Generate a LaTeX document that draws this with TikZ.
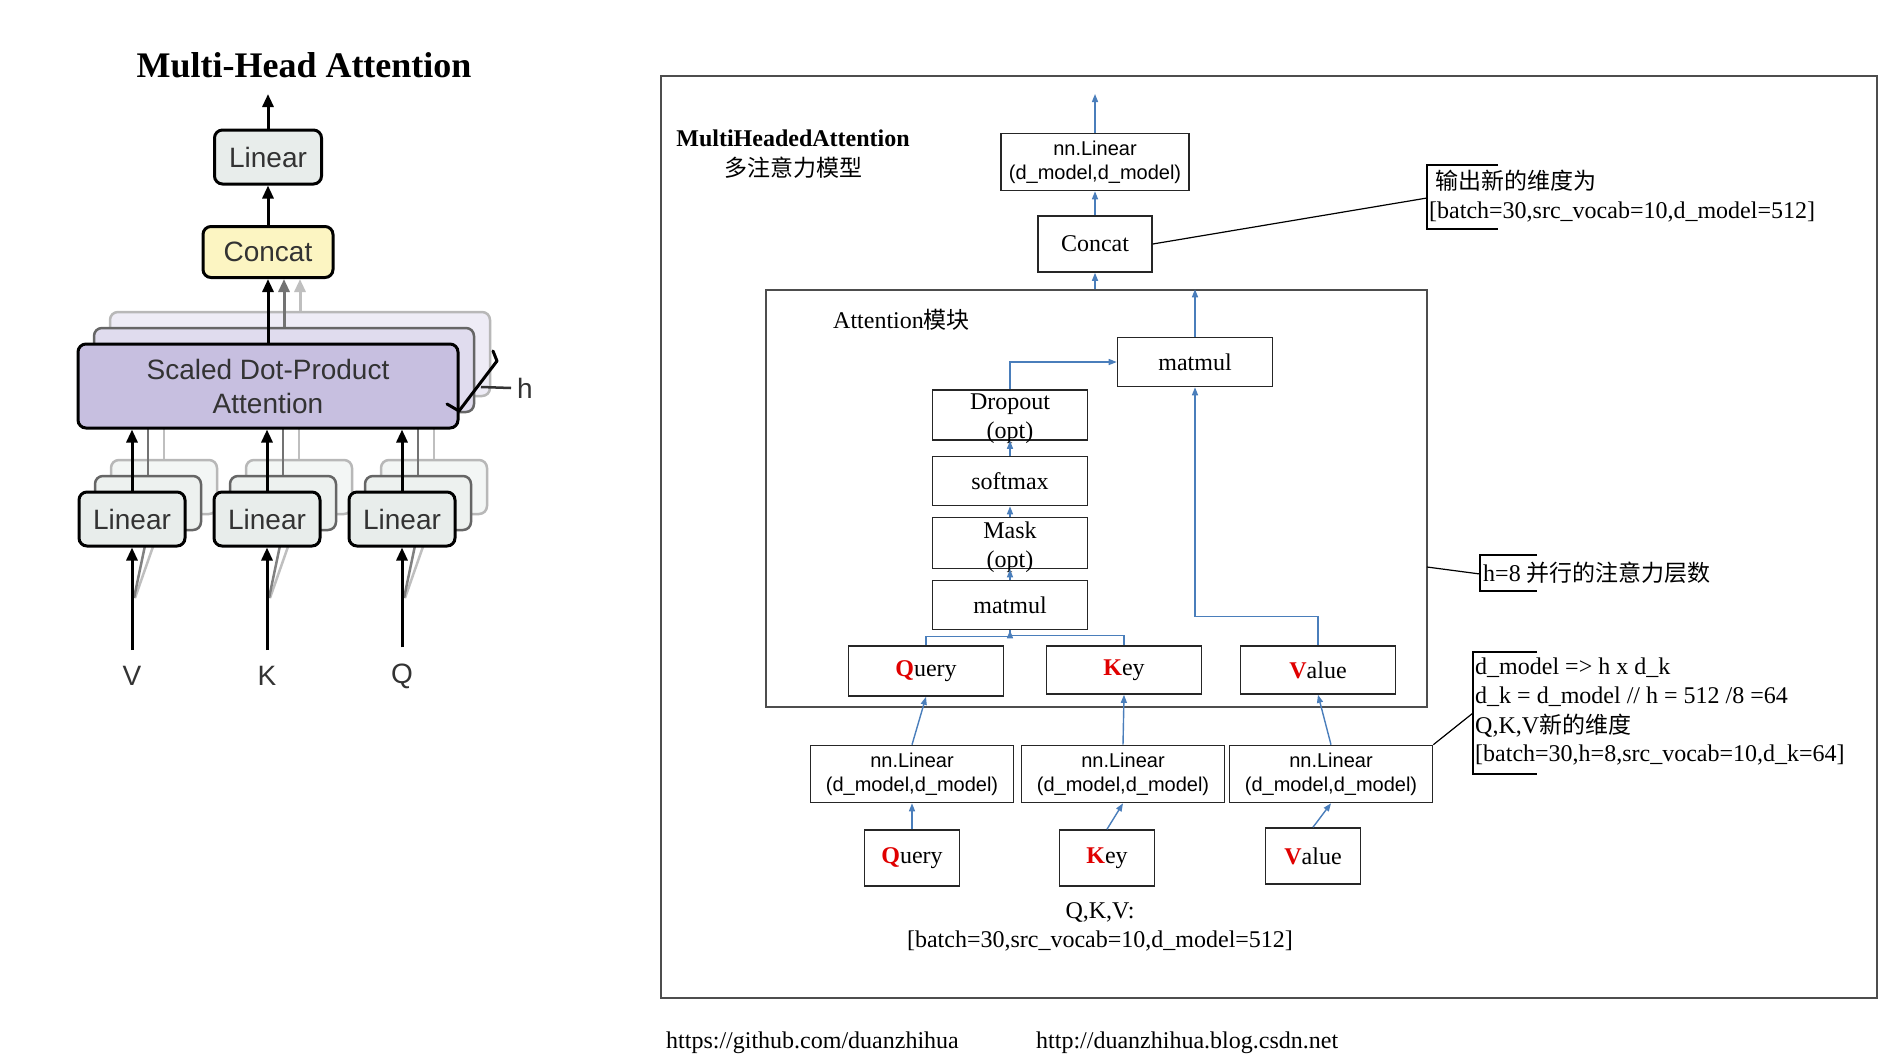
\documentclass[tikz,border=0pt]{standalone}
\usepackage{fontspec}
\setmainfont{Liberation Serif}
\setsansfont{Liberation Sans}
\newfontfamily\cjk{Noto Sans CJK SC}
\usetikzlibrary{arrows.meta,calc}
\definecolor{lblue}{HTML}{4A7EBB}
\definecolor{sdpafill}{HTML}{C7BFE0}
\definecolor{linfill}{HTML}{E8EDEB}
\definecolor{catfill}{HTML}{FCF5C2}
\definecolor{qred}{HTML}{E00000}
\definecolor{framec}{HTML}{4D4D4D}
\newcommand\redl[1]{{\bfseries\color{qred}#1}}
\begin{document}
\begin{tikzpicture}[x=1pt,y=-1pt,
 lbox/.style={draw=black, line width=3pt, rounded corners=8pt, inner sep=0pt, font=\sffamily\fontsize{28}{34}\selectfont, text=black!80, align=center},
 lcopyA/.style={draw=black!60, line width=2.5pt, rounded corners=8pt, inner sep=0pt},
 lcopyB/.style={draw=black!28, line width=2.5pt, rounded corners=8pt, inner sep=0pt},
 karr/.style={draw=black, line width=3pt, -{Triangle[length=13pt,width=11pt]}},
 rbox/.style={draw=black!85, line width=1.6pt, inner sep=0pt},
 tnr/.style={font=\fontsize{24}{29}\selectfont, align=center, inner sep=0pt},
 tnrl/.style={font=\fontsize{24}{29}\selectfont, align=left, inner sep=0pt, anchor=west},
 arl/.style={font=\sffamily\fontsize{20}{24}\selectfont, align=center},
 barr/.style={draw=lblue, line width=1.4pt, -{Triangle[length=8pt,width=6pt]}},
 bline/.style={draw=lblue, line width=1.4pt},
 cline/.style={draw=black, line width=1.2pt},
 lsans/.style={font=\sffamily\fontsize{28}{34}\selectfont, text=black!80, inner sep=0pt}
]
\fill[white] (0,0) rectangle (1881,1058);
\path[use as bounding box] (0,0) rectangle (1881,1058);

% ================= LEFT FIGURE =================
\node[font=\bfseries\fontsize{36}{40}\selectfont] (title) at (304,65) {Multi-Head Attention};

% copies of scaled dot-product attention
\node[lcopyB, fill=sdpafill!30, minimum width=380, minimum height=84] (sdpa3) at (300,354) {};
\node[lcopyA, fill=sdpafill!55, minimum width=380, minimum height=84] (sdpa2) at (284,370) {};

% copies of linear boxes
\foreach \n/\x in {1/132,2/267,3/402}{
  \node[lcopyB, fill=linfill!50, minimum width=106, minimum height=54] (lin\n c) at (\x+32,487) {};
  \node[lcopyA, fill=linfill!80, minimum width=106, minimum height=54] (lin\n b) at (\x+16,503) {};
}
% faint lines of copies
\foreach \n/\x in {1/132,2/267,3/402}{
  \draw[black!25, line width=2.5pt] (lin\n c.north) -- (lin\n c.north |- sdpa3.south);
  \draw[black!55, line width=2.5pt] (lin\n b.north) -- (lin\n b.north |- sdpa2.south);
  \draw[black!25, line width=2.5pt] (\x+3,598) -- (lin\n c.south);
  \draw[black!50, line width=2.5pt] (\x+2,598) -- (lin\n b.south);
}

% front nodes
\node[lbox, fill=sdpafill, minimum width=380, minimum height=84] (sdpa) at (268,386) {Scaled Dot-Product\\Attention};
\node[lbox, fill=catfill, minimum width=130, minimum height=51] (cat) at (268,252) {Concat};
\node[lbox, fill=linfill, minimum width=107, minimum height=54] (lintop) at (268,157) {Linear};
\coordinate (ltop) at (268,94);
\node[lbox, fill=linfill, minimum width=106, minimum height=54] (lin1) at (132,519) {Linear};
\node[lbox, fill=linfill, minimum width=106, minimum height=54] (lin2) at (267,519) {Linear};
\node[lbox, fill=linfill, minimum width=106, minimum height=54] (lin3) at (402,519) {Linear};
\node[lsans] (vin) at (132,676) {V};
\node[lsans] (kin) at (267,676) {K};
\node[lsans] (qin) at (402,676) {Q};

% arrows
\draw[karr, draw=black!25] (sdpa3.north) -- (sdpa3.north |- cat.south);
\draw[karr, draw=black!55] (sdpa2.north) -- (sdpa2.north |- cat.south);
\draw[karr] (sdpa.north) -- (cat.south);
\draw[karr] (cat.north) -- (lintop.south);
\draw[karr] (lintop.north) -- (ltop);
\draw[karr] (lin1.north) -- (lin1.north |- sdpa.south);
\draw[karr] (lin2.north) -- (lin2.north |- sdpa.south);
\draw[karr] (lin3.north) -- (lin3.north |- sdpa.south);
\draw[karr] ([yshift=16pt]vin.north) -- (lin1.south);
\draw[karr] ([yshift=16pt]kin.north) -- (lin2.south);
\draw[karr] ([yshift=16pt]qin.north) -- (lin3.south);

% h brace
\draw[line width=3pt, line join=round, line cap=round] (447,404) -- (459,411) -- (497,361) -- (493,351);
\node[lsans] (hlab) at (525,388) {h};
\coordinate (hl) at (481,387);
\draw[line width=2.5pt, black!80] (hl) -- ([xshift=-6pt]hlab.west);

% ================= RIGHT FIGURE =================
\draw[framec, line width=1.5pt] (661,76) rectangle (1877,998);

\node[font=\bfseries\fontsize{24}{29}\selectfont, inner sep=0pt] (mha) at (793,138) {MultiHeadedAttention};
\node[font=\cjk\fontsize{23}{29}\selectfont, inner sep=0pt] (mhacn) at (793,168) {多注意力模型};

\node[rbox, minimum width=188, minimum height=57, arl] (nlin0) at (1095,162) {nn.Linear\\(d\_model,d\_model)};
\coordinate (outtop) at (1095,94);
\node[rbox, minimum width=114, minimum height=56, tnr] (cat2) at (1095,244) {Concat};

\node[draw=framec, line width=1.5pt, minimum width=661, minimum height=417, inner sep=0pt] (attn) at (1096.5,498.5) {};
\node[tnrl] (attnlab) at (833,320) {Attention{\cjk\fontsize{23}{29}\selectfont 模块}};

\node[rbox, minimum width=155, minimum height=49, tnr] (mm2) at (1195,362) {matmul};
\node[rbox, minimum width=155, minimum height=50] (drop) at (1010,415) {};
\node[tnr] (droptxt) at ([yshift=-4pt]drop.center) {Dropout\\(opt)};
\node[rbox, minimum width=155, minimum height=49, tnr] (soft) at (1010,481) {softmax};
\node[rbox, minimum width=155, minimum height=51] (mask) at (1010,543) {};
\node[tnr] (masktxt) at ([yshift=-4pt]mask.center) {Mask\\(opt)};
\node[rbox, minimum width=155, minimum height=49, tnr] (mm1) at (1010,605) {matmul};
\node[rbox, minimum width=155, minimum height=50, tnr] (qi) at (926,671) {\redl{Q}uery};
\node[rbox, minimum width=155, minimum height=48, tnr] (ki) at (1124,670) {\redl{K}ey};
\node[rbox, minimum width=155, minimum height=48, tnr] (vi) at (1318,670) {\redl{V}alue};

\node[rbox, minimum width=203, minimum height=57, arl] (nl1) at (912,774) {nn.Linear\\(d\_model,d\_model)};
\node[rbox, minimum width=203, minimum height=57, arl] (nl2) at (1123,774) {nn.Linear\\(d\_model,d\_model)};
\node[rbox, minimum width=203, minimum height=57, arl] (nl3) at (1331,774) {nn.Linear\\(d\_model,d\_model)};

\node[rbox, minimum width=95, minimum height=56, tnr] (qo) at (912,858) {\redl{Q}uery};
\node[rbox, minimum width=95, minimum height=56, tnr] (ko) at (1107,858) {\redl{K}ey};
\node[rbox, minimum width=95, minimum height=56, tnr] (vo) at (1313,856) {\redl{V}alue};

\node[tnr] (qkv1) at (1100,912) {Q,K,V:};
\node[tnr] (qkv2) at (1100,941) {[batch=30,src\_vocab=10,d\_model=512]};

% blue connectors
\draw[barr] (nlin0.north) -- (outtop);
\draw[barr] (cat2.north) -- (nlin0.south);
\draw[barr] (cat2.south |- attn.north) -- (cat2.south);
\draw[barr] (mm2.north) -- (mm2.north |- attn.north);
\draw[barr] (drop.north) |- (mm2.west);
\draw[barr] (soft.north) -- (drop.south);
\draw[barr] (mask.north) -- (soft.south);
\draw[barr] (mm1.north) -- (mask.south);
\draw[bline] (ki.north) -- ++(0,-10) -| (mm1.south);
\draw[barr] (qi.north) -- ++(0,-9) -| (mm1.south);
\draw[barr] (vi.north) -- ++(0,-29) -| (mm2.south);
\draw[barr] (nl1.north) -- (qi.south);
\draw[barr] (nl2.north) -- (ki.south);
\draw[barr] (nl3.north) -- (vi.south);
\draw[barr] (qo.north) -- (nl1.south);
\draw[barr] (ko.north) -- (nl2.south);
\draw[barr] (vo.north) -- (nl3.south);

% callout 1
\draw[cline] (1498,165) -- (1427,165) -- (1427,229) -- (1498,229);
\coordinate (c1) at (1427,198);
\draw[cline] (cat2.east) -- (c1);
\node[tnrl, font=\cjk\fontsize{23}{29}\selectfont] (co1a) at (1435,181) {输出新的维度为};
\node[tnrl] (co1b) at (1429,212) {[batch=30,src\_vocab=10,d\_model=512]};

% callout 2
\draw[cline] (1537,555) -- (1480,555) -- (1480,591) -- (1537,591);
\coordinate (c2) at (1480,574);
\coordinate (a2) at (1427,567);
\draw[cline] (a2) -- (c2);
\node[tnrl] (co2) at (1483,573) {h=8 {\cjk\fontsize{23}{29}\selectfont 并行的注意力层数}};

% callout 3
\draw[cline] (1537,652) -- (1473,652) -- (1473,774) -- (1537,774);
\coordinate (c3) at (1473,713);
\draw[cline] (nl3.north east) -- (c3);
\node[tnrl] (co3a) at (1475,668) {d\_model => h x d\_k};
\node[tnrl] (co3b) at (1475,697) {d\_k = d\_model // h = 512 /8 =64};
\node[tnrl] (co3c) at (1475,726) {Q,K,V{\cjk\fontsize{23}{29}\selectfont 新的维度}};
\node[tnrl] (co3d) at (1475,755) {[batch=30,h=8,src\_vocab=10,d\_k=64]};

% footer
\node[tnrl] (gh) at (666,1043) {https://github.com/duanzhihua};
\node[tnrl] (blog) at (1036,1043) {http://duanzhihua.blog.csdn.net};
\end{tikzpicture}
\end{document}
